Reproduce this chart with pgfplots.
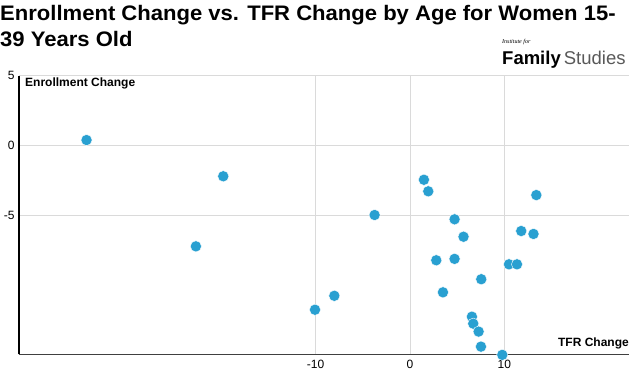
\documentclass[border=0pt]{standalone}
\usepackage{fontspec}
\setmainfont{Liberation Sans}
\newfontfamily\serifit{Liberation Serif}
\usepackage{pgfplots}
\usepackage{pgfplotstable}
\pgfplotsset{compat=1.18}
\definecolor{dotblue}{RGB}{41,160,209}
\definecolor{gridgray}{RGB}{218,218,218}
\pgfplotstableread{
x y
-34.3 0.38
-19.8 -2.22
-22.7 -7.25
-10.07 -11.8
-8.02 -10.8
-3.75 -5.0
1.48 -2.47
1.94 -3.3
13.4 -3.57
4.73 -5.31
5.68 -6.56
11.8 -6.15
13.1 -6.36
2.79 -8.25
4.73 -8.15
10.5 -8.54
11.35 -8.54
7.56 -9.61
3.5 -10.55
6.57 -12.3
6.71 -12.8
7.28 -13.37
7.53 -14.45
9.79 -15.04
}\pts
\begin{document}
\begin{tikzpicture}
\path[use as bounding box] (0,0) rectangle (640bp,379bp);
\begin{axis}[
  at={(19bp,24.7bp)}, anchor=south west,
  scale only axis, width=610.3bp, height=278.6bp,
  xmin=-41.46, xmax=23.26, ymin=-15, ymax=5,
  axis x line=bottom, axis y line=left,
  axis line style={-},
  x axis line style={draw=black!75, line width=0.8pt},
  y axis line style={draw=black, line width=1.3pt},
  xtick={-10,0,10}, ytick={-5,0,5},
  xticklabels={-10,0,10}, yticklabels={-5,0,5},
  major tick length=0pt,
  tick style={draw=none},
  grid=major, major grid style={draw=gridgray, line width=0.8pt},
  /pgf/number format/assume math mode=true,
  tick label style={font=\fontsize{12bp}{14bp}\selectfont},
  xticklabel style={yshift=-2bp},
  yticklabel style={xshift=-1bp},
  clip=false,
]
\addplot[only marks, mark=*, mark size=5.6bp, mark options={fill=dotblue, draw=white, line width=0.4pt}] table {\pts};
\end{axis}
\node[anchor=base west, inner sep=0] at (25bp,379bp-87bp) {\fontsize{12bp}{14bp}\selectfont\bfseries Enrollment Change};
\node[anchor=base east, inner sep=0] at (629bp,379bp-346bp) {\fontsize{12bp}{14bp}\selectfont\bfseries TFR Change};
\node[anchor=base west, inner sep=0, xscale=1.05] at (0,379bp-20.7bp) {\fontsize{21bp}{26bp}\selectfont\bfseries Enrollment Change vs. TFR Change by Age for Women 15-};
\node[anchor=base west, inner sep=0, xscale=1.05] at (0,379bp-46.7bp) {\fontsize{21bp}{26bp}\selectfont\bfseries 39 Years Old};
\node[anchor=base west, inner sep=0] at (502bp,379bp-44bp) {\fontsize{6bp}{7bp}\selectfont\serifit\itshape Institute for};
\node[anchor=base west, inner sep=0] at (502bp,379bp-65bp) {\fontsize{18.5bp}{20bp}\selectfont\bfseries Family\,\mdseries\color{black!65}Studies};
\end{tikzpicture}
\end{document}
